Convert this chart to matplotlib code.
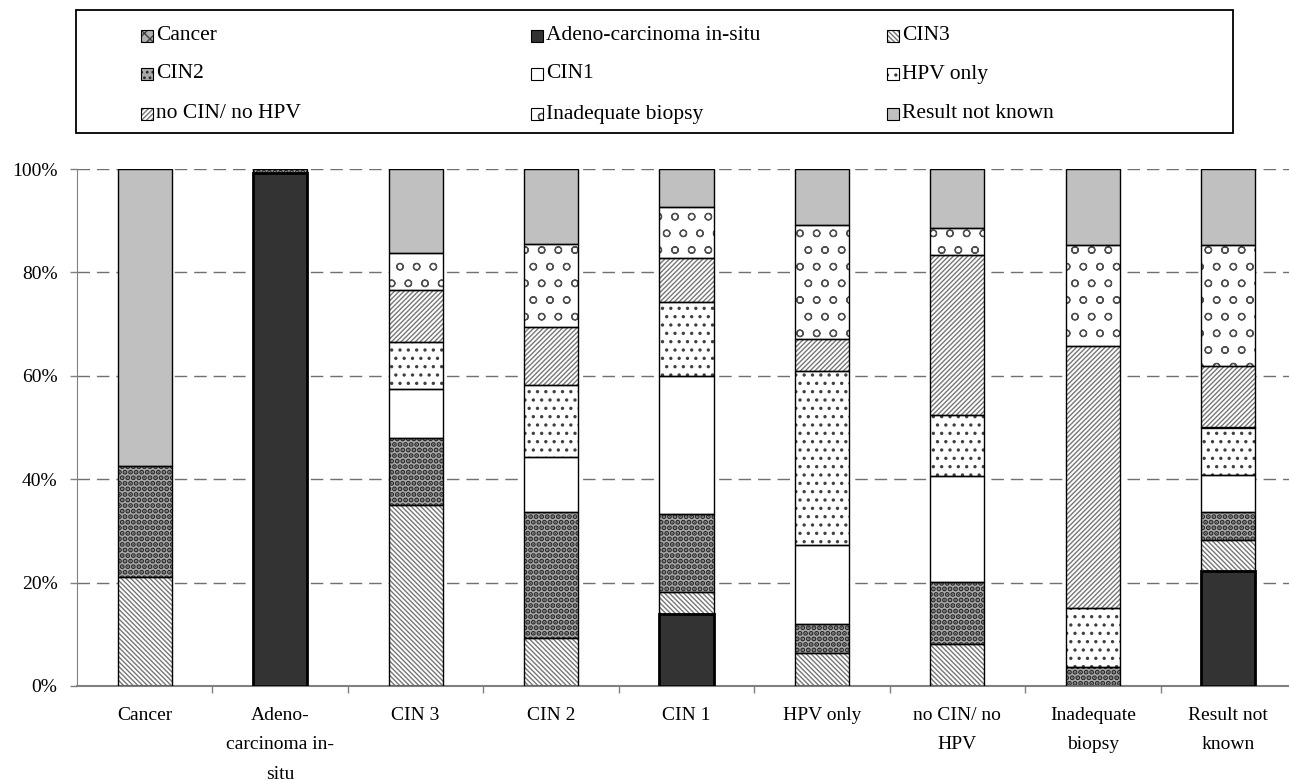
import matplotlib
matplotlib.use("Agg")
from matplotlib import pyplot as plt
from matplotlib.patches import Rectangle
import numpy as np

plt.rcParams['font.family'] = ['Liberation Serif', 'DejaVu Serif']

categories = ['Cancer', 'Adeno-\ncarcinoma in-\nsitu', 'CIN 3', 'CIN 2', 'CIN 1',
              'HPV only', 'no CIN/ no\nHPV', 'Inadequate\nbiopsy', 'Result not\nknown']

series_names = ['Cancer', 'Adeno-carcinoma in-situ', 'CIN3', 'CIN2', 'CIN1',
                'HPV only', 'no CIN/ no HPV', 'Inadequate biopsy', 'Result not known']

# percentages, stacked bottom to top in series order
cancer = [0, 0, 0, 0, 0, 0, 0, 0, 0]
adeno = [0, 99.3, 0, 0, 14.0, 0, 0, 0, 22.2]
cin3 = [21.0, 0, 35.0, 9.3, 4.1, 6.3, 8.1, 0, 6.1]
cin2 = [21.6, 0.7, 12.9, 24.3, 15.2, 5.6, 12.1, 3.7, 5.4]
cin1 = [0, 0, 9.5, 10.7, 26.6, 15.3, 20.4, 0, 7.2]
hpv_only = [0, 0, 9.2, 14.0, 14.3, 33.7, 11.8, 11.3, 9.1]
no_cin = [0, 0, 10.0, 11.1, 8.6, 6.3, 31.0, 50.7, 11.9]
inadequate = [0, 0, 7.1, 16.1, 9.8, 21.9, 5.2, 19.6, 23.4]
not_known = [57.4, 0, 16.3, 14.5, 7.4, 10.9, 11.4, 14.7, 14.7]

values = [cancer, adeno, cin3, cin2, cin1, hpv_only, no_cin, inadequate, not_known]

# (facecolor, hatch, hatch colour, hatch linewidth)
styles = [
    ('#b0b0b0', 'xxx', '#404040', 1.0),
    ('#333333', None, '#333333', 1.0),
    ('white', '\\' * 7, '#777777', 1.0),
    ('#aaaaaa', '...', '#2a2a2a', 2.6),
    ('white', None, 'white', 1.0),
    ('white', '..', '#404040', 1.2),
    ('white', '/' * 7, '#777777', 1.0),
    ('white', 'o', '#505050', 0.9),
    ('#c0c0c0', None, '#c0c0c0', 1.0),
]

W, H = 1289, 780
fig = plt.figure(figsize=(W / 100, H / 100), dpi=100)
ax = fig.add_axes([77 / W, 1 - 686 / H, (1296 - 77) / W, (686 - 169) / H])

x = np.arange(len(categories))
bottom = np.zeros(len(categories))
for i, vals in enumerate(values):
    vals = np.array(vals, dtype=float)
    idx = vals > 0
    fc, hatch, hc, hlw = styles[i]
    with plt.rc_context({'hatch.linewidth': hlw}):
        ax.bar(x[idx], vals[idx], bottom=bottom[idx], width=0.4, color=fc,
               hatch=hatch, edgecolor=hc, linewidth=0, zorder=2)
    lw = 2.0 if i == 1 else 1.0
    ax.bar(x[idx], vals[idx], bottom=bottom[idx], width=0.4, fill=False,
           edgecolor='black', linewidth=lw, zorder=3)
    bottom += vals

ax.set_xlim(-0.5, 8.5)
ax.set_ylim(0, 100)
ax.set_yticks([0, 20, 40, 60, 80, 100])
ax.set_yticklabels(['0%', '20%', '40%', '60%', '80%', '100%'])
ax.yaxis.grid(True, linestyle=(0, (9, 5)), color='#707070', linewidth=1.0, zorder=0)
ax.set_axisbelow(True)

ax.set_xticks(x)
ax.set_xticklabels(categories, linespacing=1.95)
ax.set_xticks(np.arange(0.5, 8.5, 1), minor=True)
ax.tick_params(axis='x', which='major', length=0, pad=15, labelsize=14)
ax.tick_params(axis='x', which='minor', length=5, width=1, color='#808080', direction='out')
ax.tick_params(axis='y', length=5, width=1, color='#808080', pad=9, labelsize=14)

for s in ['top', 'right']:
    ax.spines[s].set_visible(False)
ax.spines['left'].set_color('#808080')
ax.spines['bottom'].set_color('#808080')
ax.spines['bottom'].set_linewidth(1.5)

# legend box drawn in pixel coords
fig.patches.append(Rectangle((76 / W, 1 - 133 / H), (1233 - 76) / W, 123 / H,
                             transform=fig.transFigure, fill=False,
                             edgecolor='black', linewidth=1.3))
col_x = [141, 531, 887]
row_y = [36, 74, 114]
for k in range(len(series_names)):
    px = col_x[k % 3]
    py = row_y[k // 3]
    fc, hatch, hc, hlw = styles[k]
    with plt.rc_context({'hatch.linewidth': min(hlw, 1.2)}):
        fig.patches.append(Rectangle((px / W, 1 - (py + 6) / H), 12 / W, 12 / H,
                                     transform=fig.transFigure, facecolor=fc,
                                     hatch=hatch, edgecolor=hc, linewidth=0))
    fig.patches.append(Rectangle((px / W, 1 - (py + 6) / H), 12 / W, 12 / H,
                                 transform=fig.transFigure, fill=False,
                                 edgecolor='black', linewidth=0.8))
    fig.text((px + 15) / W, 1 - py / H, series_names[k], fontsize=15.5,
             va='center', ha='left')

fig.savefig('out.png', dpi=100)
